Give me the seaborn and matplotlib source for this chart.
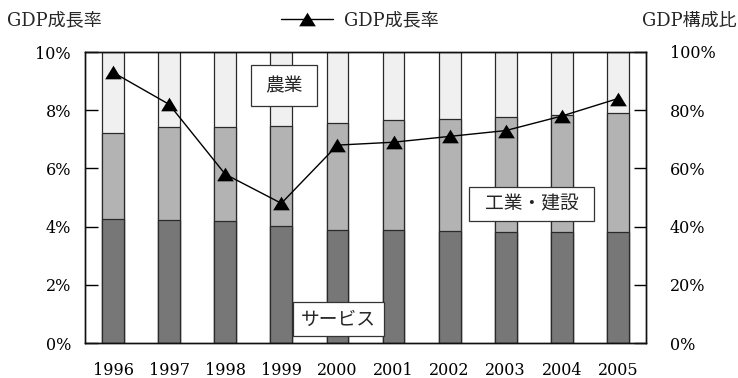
import numpy as np
import pandas as pd
import matplotlib
matplotlib.use("Agg")
import matplotlib.pyplot as plt
import seaborn as sns
from matplotlib.lines import Line2D
from matplotlib.patches import Rectangle

years = ["1996", "1997", "1998", "1999", "2000", "2001", "2002", "2003", "2004", "2005"]
growth = [9.3, 8.2, 5.8, 4.8, 6.8, 6.9, 7.1, 7.3, 7.8, 8.4]
services = [42.5, 42.4, 41.8, 40.1, 38.7, 38.7, 38.5, 38.0, 38.0, 38.0]
industry = [29.7, 31.9, 32.3, 34.6, 36.9, 38.0, 38.5, 39.5, 40.2, 41.1]
agriculture = [100 - s - i for s, i in zip(services, industry)]
left_ticks = ["0%", "2%", "4%", "6%", "8%", "10%"]
right_ticks = ["0%", "20%", "40%", "60%", "80%", "100%"]

sns.set_theme(style="white")
serif = ["DejaVu Serif", "Noto Sans CJK JP"]
jp = ["Noto Sans CJK JP", "DejaVu Sans"]
plt.rcParams["font.family"] = serif

df = pd.DataFrame({"year": years, "services": services, "industry": industry,
                   "agriculture": agriculture})
df["top1"] = df["services"] + df["industry"] + df["agriculture"]
df["top2"] = df["services"] + df["industry"]

W, H = 738, 378
fig = plt.figure(figsize=(W / 100, H / 100), dpi=100)
ax = fig.add_axes([85 / W, 1 - 343 / H, 561 / W, 291 / H])

bw = 0.39
common = dict(x="year", ax=ax, width=bw, edgecolor="#2a2a2a", linewidth=0.9, saturation=1)
sns.barplot(data=df, y="top1", color="#f0f0f0", **common)
sns.barplot(data=df, y="top2", color="#b3b3b3", **common)
sns.barplot(data=df, y="services", color="#777777", **common)
ax.set_ylim(0, 100)
ax.set_xlim(-0.5, len(years) - 0.5)
ax.set_xlabel("")
ax.set_ylabel("")

ax2 = ax.twinx()
tri = [(-1, -0.82), (1, -0.82), (0, 0.82), (-1, -0.82)]
sns.pointplot(x=years, y=growth, ax=ax2, color="black", markers="^",
              markersize=11, linewidth=1.0)
for ln in ax2.lines:
    ln.set_marker(tri)
    ln.set_markersize(12)
    ln.set_markeredgewidth(0)
ax2.set_ylim(0, 10)
ax2.set_xlim(-0.5, len(years) - 0.5)
ax2.set_ylabel("")

ax.set_yticks(np.arange(0, 101, 20))
ax.set_yticklabels(right_ticks)
ax.yaxis.tick_right()
ax.tick_params(axis="y", direction="in", length=9, width=1, color="black",
               labelsize=11.5, pad=17, right=True, left=False,
               labelright=True, labelleft=False, labelcolor="black")
ax2.set_yticks(np.arange(0, 11, 2))
ax2.set_yticklabels(left_ticks)
ax2.yaxis.tick_left()
ax2.tick_params(axis="y", direction="in", length=9, width=1, color="black",
                labelsize=11.5, pad=10, left=True, right=False,
                labelleft=True, labelright=False, labelcolor="black")
ax.tick_params(axis="x", length=0, labelsize=11.5, pad=14, labelcolor="black")
ax2.tick_params(axis="x", length=0, labelbottom=False)
for a in (ax, ax2):
    for s in a.spines.values():
        s.set_color("#111111")
        s.set_linewidth(1.0)
for lab in ax.get_xticklabels() + ax.get_yticklabels() + ax2.get_yticklabels():
    lab.set_family(serif)

def label_box(x0, y0, x1, y1, text):
    fig.patches.append(Rectangle((x0 / W, 1 - y1 / H), (x1 - x0) / W, (y1 - y0) / H,
                                 transform=fig.transFigure, facecolor="white",
                                 edgecolor="#333333", linewidth=0.9, zorder=3))
    fig.text((x0 + x1) / 2 / W, 1 - (y0 + y1) / 2 / H, text, ha="center", va="center",
             fontsize=13.5, family=jp, zorder=4)

label_box(251, 65, 317, 106, "農業")
label_box(469, 187, 594, 221, "工業・建設")
label_box(293, 302, 384, 336, "サービス")

fig.text(54.5 / W, 1 - 20.5 / H, "GDP成長率", ha="center", va="center", fontsize=13, family=serif)
fig.text(689.5 / W, 1 - 20.5 / H, "GDP構成比", ha="center", va="center", fontsize=13, family=serif)

handle = Line2D([], [], color="black", marker=tri, markersize=12, markeredgewidth=0, linewidth=1.0)
leg = fig.legend([handle], ["GDP成長率"], loc="center", bbox_to_anchor=(359.5 / W, 1 - 20.5 / H),
                 frameon=False, handlelength=2.9, handletextpad=0.6,
                 prop={"family": serif, "size": 13})

fig.savefig("out.png", dpi=100)
